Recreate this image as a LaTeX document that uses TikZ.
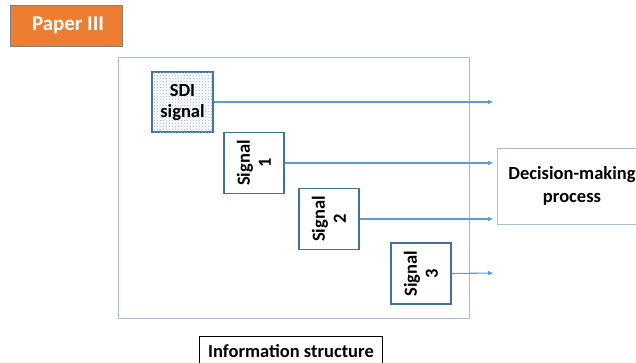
\documentclass[tikz,border=0pt]{standalone}
\usepackage{fontspec}
\setmainfont{Carlito}
\usetikzlibrary{arrows.meta,patterns}
\definecolor{paperorange}{HTML}{ED7D31}
\definecolor{framegray}{HTML}{A9BCD3}
\definecolor{sigblue}{HTML}{41719C}
\definecolor{arrowblue}{HTML}{5B9BD5}
\definecolor{dotblue}{HTML}{9DB4CF}
\begin{document}
\begin{tikzpicture}[x=1pt,y=-1pt]
	\tikzset{sigbox/.style={draw=sigblue,line width=1.5pt,minimum width=61pt,minimum height=60pt,inner sep=0pt,align=center,font=\fontsize{18.5}{21}\selectfont\bfseries}}
	\tikzset{sigarrow/.style={arrowblue,line width=1.1pt,-{Triangle[length=5pt,width=4pt]}}}
	\def\xend{493}
	\clip (0,0) rectangle (636,362);
	% title tag
	\node[fill=paperorange,draw=gray,text=white,minimum width=112pt,minimum height=41pt,font=\fontsize{21}{24}\selectfont\bfseries] (paper) at (66,25.5) {\hspace{4pt}Paper III};
	% information structure frame
	\draw[framegray,line width=0.8pt] (118,57) rectangle (469,318);
	\node[sigbox,fill=white,postaction={pattern=crosshatch dots,pattern color=dotblue}] (sdi) at (182.5,102) {SDI\\signal};
	\node[sigbox,rotate=90] (s1) at (254,163) {Signal\\1};
	\node[sigbox,rotate=90] (s2) at (329,219) {Signal\\2};
	\node[sigbox,rotate=90] (s3) at (421,273.5) {Signal\\3};
	\coordinate (e0) at (\xend,102);
	\coordinate (e1) at (\xend,163);
	\coordinate (e2) at (\xend,219);
	\coordinate (e3) at (\xend,273);
	\draw[sigarrow] (sdi.east) -- (e0);
	\draw[sigarrow] (s1.south) -- (e1);
	\draw[sigarrow] (s2.south) -- (e2);
	\draw[sigarrow] (s3.south) -- (e3);
	\node[draw=framegray,line width=0.8pt,minimum width=150pt,minimum height=76pt,align=center,font=\fontsize{18.5}{23}\selectfont\bfseries] (dm) at (572,186) {Decision-making\\process};
	\node[draw=black,line width=1pt,minimum width=183pt,minimum height=30pt,inner sep=2pt,font=\fontsize{18.5}{21}\selectfont\bfseries] (info) at (291,351) {Information structure};
\end{tikzpicture}
\end{document}
